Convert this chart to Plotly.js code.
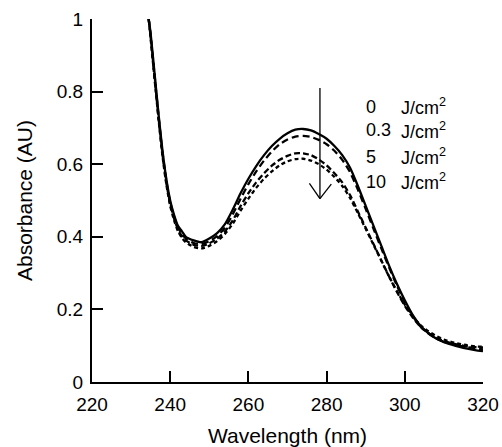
<!DOCTYPE html>
<html>
<head>
<meta charset="utf-8">
<script src="https://cdn.plot.ly/plotly-3.0.1.min.js"></script>
<style>
  html, body { margin: 0; padding: 0; background: #fff; }
  #chart { width: 502px; height: 447px; }
</style>
</head>
<body>
<div id="chart"></div>
<script>
// Wavelength grid (nm)
const wavelength = [234.5, 235, 236, 237, 238, 239, 240, 241, 242, 243, 244,
  246, 248, 250, 252, 254, 256, 258, 260, 262, 264,
  266, 268, 270, 272, 274, 276, 278, 280, 282, 284,
  286, 288, 290, 292, 294, 296, 298, 300, 302, 304,
  306, 308, 310, 312, 314, 316, 318, 320];

// Absorbance for each fluence
const abs0 = [1.00, 0.96, 0.85, 0.74, 0.64, 0.56, 0.50, 0.46, 0.43, 0.415, 0.40,
  0.39, 0.385, 0.395, 0.41, 0.435, 0.475, 0.52, 0.56, 0.595, 0.625,
  0.65, 0.67, 0.685, 0.695, 0.697, 0.693, 0.683, 0.67, 0.65, 0.625,
  0.59, 0.54, 0.485, 0.43, 0.375, 0.32, 0.27, 0.225, 0.185, 0.155,
  0.135, 0.12, 0.11, 0.103, 0.097, 0.092, 0.088, 0.085];

const abs03 = [1.00, 0.955, 0.845, 0.735, 0.635, 0.555, 0.495, 0.455, 0.425, 0.408, 0.395,
  0.383, 0.38, 0.388, 0.402, 0.425, 0.462, 0.505, 0.545, 0.58, 0.61,
  0.635, 0.655, 0.668, 0.676, 0.678, 0.675, 0.667, 0.655, 0.637, 0.612,
  0.578, 0.53, 0.477, 0.422, 0.368, 0.315, 0.265, 0.22, 0.182, 0.153,
  0.134, 0.12, 0.111, 0.105, 0.10, 0.096, 0.093, 0.09];

const abs5 = [1.00, 0.95, 0.84, 0.73, 0.63, 0.55, 0.49, 0.45, 0.42, 0.402, 0.39,
  0.378, 0.375, 0.382, 0.395, 0.415, 0.445, 0.485, 0.52, 0.55, 0.575,
  0.596, 0.612, 0.623, 0.63, 0.63, 0.625, 0.613, 0.597, 0.575, 0.55,
  0.515, 0.47, 0.425, 0.38, 0.335, 0.29, 0.248, 0.21, 0.178, 0.152,
  0.135, 0.122, 0.113, 0.107, 0.102, 0.098, 0.096, 0.095];

const abs10 = [1.00, 0.945, 0.835, 0.725, 0.625, 0.545, 0.485, 0.445, 0.415, 0.397, 0.385,
  0.372, 0.368, 0.375, 0.388, 0.408, 0.436, 0.472, 0.505, 0.535, 0.56,
  0.58, 0.597, 0.608, 0.614, 0.615, 0.61, 0.60, 0.585, 0.565, 0.54,
  0.507, 0.465, 0.422, 0.378, 0.334, 0.29, 0.25, 0.213, 0.182, 0.157,
  0.14, 0.127, 0.117, 0.11, 0.105, 0.101, 0.098, 0.097];

const fluenceLabels = ["0", "0.3", "5", "10"];
const unitLabel = "J/cm<sup>2</sup>";
const xTicks = [220, 240, 260, 280, 300, 320];
const yTicks = [0, 0.2, 0.4, 0.6, 0.8, 1];
const yTickText = ["0", "0.2", "0.4", "0.6", "0.8", "1"];

const series = [abs0, abs03, abs5, abs10];
const dashes = ["solid", "7px,4px", "6px,3px", "4px,3px"];

const traces = series.map((ys, i) => ({
  x: wavelength,
  y: ys,
  type: "scatter",
  mode: "lines",
  name: fluenceLabels[i] + " J/cm²",
  line: { color: "#000", width: 2.3, dash: dashes[i], shape: "spline", smoothing: 0.6 },
  showlegend: false,
  hoverinfo: "skip"
}));

const FONT = "Liberation Sans, Arial, Helvetica, sans-serif";

const rowY = [0.758, 0.694, 0.62, 0.551];
const annotations = [];
fluenceLabels.forEach((lab, i) => {
  annotations.push({
    xref: "paper", yref: "paper", x: 0.695, y: rowY[i],
    xanchor: "left", yanchor: "middle", showarrow: false,
    text: lab, font: { family: FONT, size: 18, color: "#000" }
  });
  annotations.push({
    xref: "paper", yref: "paper", x: 0.786, y: rowY[i],
    xanchor: "left", yanchor: "middle", showarrow: false,
    text: unitLabel, font: { family: FONT, size: 18, color: "#000" }
  });
});

// Arrow (decreasing absorbance with fluence)
const arrowX = 278.3, arrowTop = 0.81, arrowTip = 0.505;
const shapes = [
  { type: "line", xref: "x", yref: "y", x0: arrowX, x1: arrowX, y0: arrowTop, y1: arrowTip,
    line: { color: "#000", width: 1.3 } },
  { type: "line", xref: "x", yref: "y", x0: arrowX - 2.7, x1: arrowX, y0: arrowTip + 0.042, y1: arrowTip,
    line: { color: "#000", width: 1.3 } },
  { type: "line", xref: "x", yref: "y", x0: arrowX + 2.9, x1: arrowX, y0: arrowTip + 0.04, y1: arrowTip,
    line: { color: "#000", width: 1.3 } }
];

const layout = {
  width: 502, height: 447,
  margin: { l: 92, r: 19, t: 19, b: 65 },
  paper_bgcolor: "#fff", plot_bgcolor: "#fff",
  font: { family: FONT, size: 19, color: "#000" },
  xaxis: {
    range: [220, 320],
    tickvals: xTicks,
    ticktext: xTicks.map(String),
    ticks: "inside", ticklen: 11, tickwidth: 2, tickcolor: "#000",
    showline: true, linecolor: "#000", linewidth: 2,
    showgrid: false, zeroline: false,
    ticklabelstandoff: 4,
    tickfont: { family: FONT, size: 19, color: "#000" },
    title: { text: "Wavelength (nm)", font: { family: FONT, size: 21, color: "#000" } }
  },
  yaxis: {
    range: [0, 1],
    tickvals: yTicks,
    ticktext: yTickText,
    ticks: "inside", ticklen: 11, tickwidth: 2, tickcolor: "#000",
    showline: true, linecolor: "#000", linewidth: 2,
    showgrid: false, zeroline: false,
    ticklabelstandoff: 3,
    tickfont: { family: FONT, size: 19, color: "#000" },
    title: { text: "Absorbance (AU)", standoff: 18, font: { family: FONT, size: 21, color: "#000" } }
  },
  annotations: annotations,
  shapes: shapes,
  showlegend: false
};

Plotly.newPlot("chart", traces, layout, { displayModeBar: false, staticPlot: true });
</script>
</body>
</html>
